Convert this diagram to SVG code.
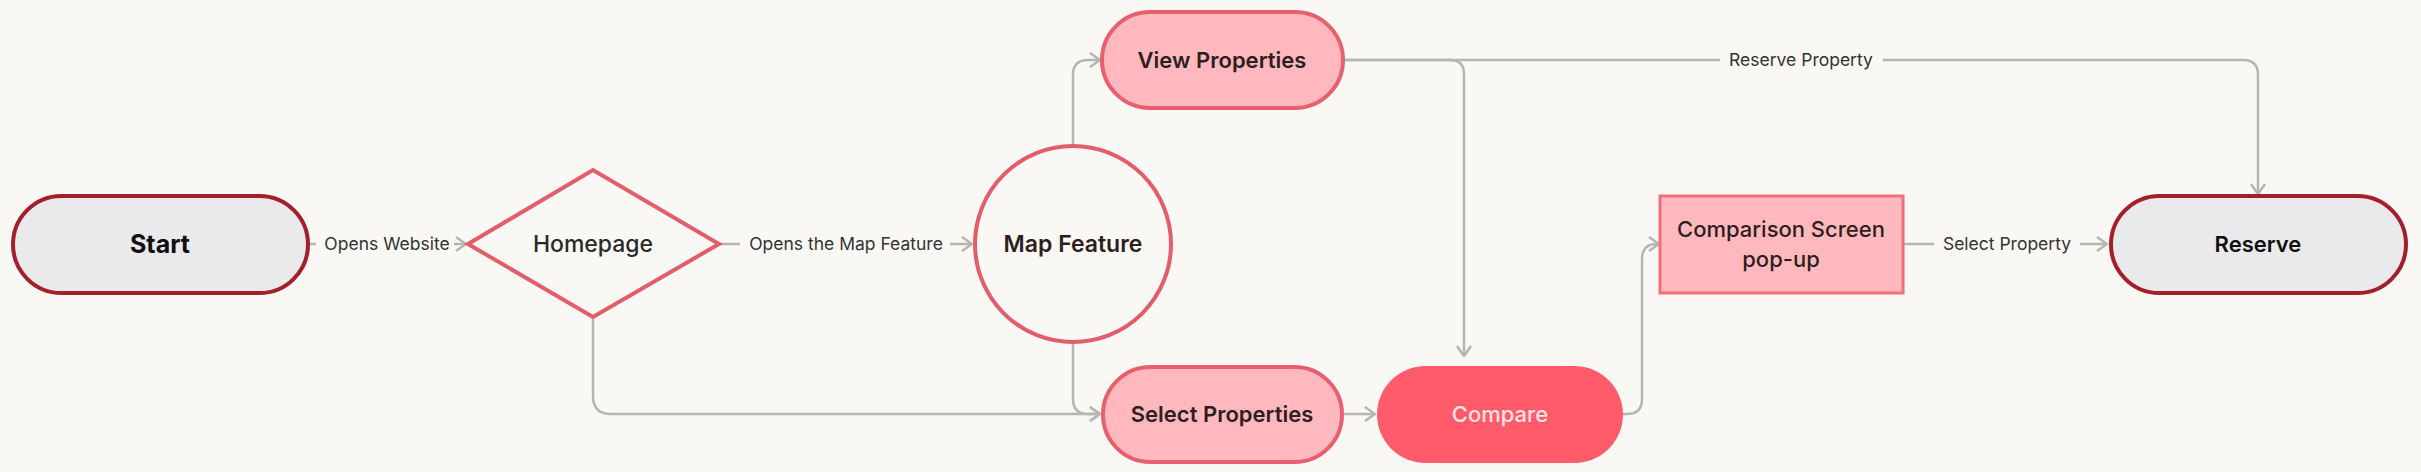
<svg xmlns="http://www.w3.org/2000/svg" width="2421" height="472" viewBox="0 0 2421 472">
<style>
.bg{fill:#faf8f4}
.term{fill:#eaeaec;stroke:#a31f2b;stroke-width:4}
.pink{fill:#ffb8bd;stroke:#e8606d;stroke-width:4}
.outline{fill:#faf8f4;stroke:#e35d6a;stroke-width:4}
.conn{fill:none;stroke:#b5b5b3;stroke-width:2.5}
.lbl{font-family:Inter,"Liberation Sans",sans-serif;font-size:17.5px;fill:#333333;text-anchor:middle}
.lblbg{fill:#faf8f4}
.nt{font-family:Inter,"Liberation Sans",sans-serif;text-anchor:middle;fill:#2e1e20}
</style>
<defs>
<marker id="arr" viewBox="0 0 12 16" markerWidth="12" markerHeight="16" refX="11" refY="8" orient="auto" markerUnits="userSpaceOnUse">
<path d="M1,1 L11,8 L1,15" fill="none" stroke="#b5b5b3" stroke-width="2.5"/>
</marker>
</defs>
<rect class="bg" x="0" y="0" width="2421" height="472"/>
<g id="connectors">
<path class="conn" d="M308,244 H466" marker-end="url(#arr)"/>
<path class="conn" d="M720,244 H972" marker-end="url(#arr)"/>
<path class="conn" d="M1073,147 V75 Q1073,60 1088,60 H1100" marker-end="url(#arr)"/>
<path class="conn" d="M1073,341 V399 Q1073,414 1088,414 H1100" marker-end="url(#arr)"/>
<path class="conn" d="M593,317 V396 Q593,414 611,414 H1100" marker-end="url(#arr)"/>
<path class="conn" d="M1342,414 H1375" marker-end="url(#arr)"/>
<path class="conn" d="M1342,60 H1450 Q1464,60 1464,74 V356" marker-end="url(#arr)"/>
<path class="conn" d="M1342,60 H2243 Q2258,60 2258,75 V194" marker-end="url(#arr)"/>
<path class="conn" d="M1623,414 H1627 Q1642,414 1642,399 V259 Q1642,244 1657,244 H1659" marker-end="url(#arr)"/>
<path class="conn" d="M1903,244 H2107" marker-end="url(#arr)"/>
<rect class="lblbg" x="316" y="232" width="138" height="24"/>
<text class="lbl" x="387" y="250">Opens Website</text>
<rect class="lblbg" x="740" y="232" width="210" height="24"/>
<text class="lbl" x="846" y="250">Opens the Map Feature</text>
<rect class="lblbg" x="1720" y="48" width="163" height="24"/>
<text class="lbl" x="1801" y="66">Reserve Property</text>
<rect class="lblbg" x="1934" y="232" width="146" height="24"/>
<text class="lbl" x="2007" y="250">Select Property</text>
</g>
<g id="start">
<rect class="term" x="13" y="196" width="295" height="97" rx="48.5"/>
<text class="nt" x="160" y="253" font-size="25" font-weight="700" style="fill:#111">Start</text>
</g>
<g id="homepage">
<polygon points="468,244 593,170 719,244 593,317" fill="none" stroke="#e35d6a" stroke-width="4"/>
<text class="nt" x="593" y="252" font-size="23" font-weight="500" style="fill:#2a2a2a">Homepage</text>
</g>
<g id="map-feature">
<circle class="outline" cx="1073" cy="244" r="98"/>
<text class="nt" x="1073" y="252" font-size="23" font-weight="600">Map Feature</text>
</g>
<g id="view-properties">
<rect class="pink" x="1102" y="12" width="241" height="96" rx="48"/>
<text class="nt" x="1222" y="68" font-size="22" font-weight="600">View Properties</text>
</g>
<g id="select-properties">
<rect class="pink" x="1103" y="367" width="239" height="95" rx="47.5"/>
<text class="nt" x="1222" y="422" font-size="22" font-weight="600">Select Properties</text>
</g>
<g id="compare">
<rect x="1377" y="366" width="246" height="97" rx="48.5" fill="#ff5b6b"/>
<text class="nt" x="1500" y="422" font-size="22" font-weight="500" style="fill:#fde2e4">Compare</text>
</g>
<g id="comparison-screen">
<rect x="1660" y="196" width="243" height="97" fill="#ffb8bd" stroke="#ef6f7b" stroke-width="3"/>
<text class="nt" x="1781" y="237" font-size="22" font-weight="500">Comparison Screen</text>
<text class="nt" x="1781" y="267" font-size="22" font-weight="500">pop-up</text>
</g>
<g id="reserve">
<rect class="term" x="2111" y="196" width="295" height="97" rx="48.5"/>
<text class="nt" x="2258" y="252" font-size="22" font-weight="600" style="fill:#111">Reserve</text>
</g>
</svg>
